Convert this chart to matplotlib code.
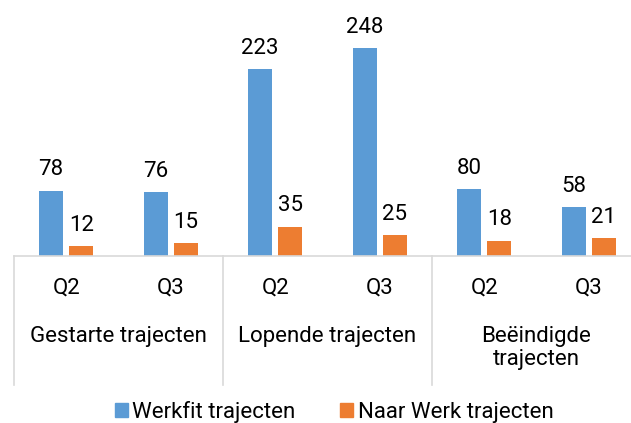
import matplotlib
matplotlib.use("Agg")
import matplotlib.pyplot as plt
import numpy as np
from matplotlib.lines import Line2D

plt.rcParams['font.family'] = ['Roboto', 'DejaVu Sans']

groups = ["Gestarte trajecten", "Lopende trajecten", "Beëindigde\ntrajecten"]
quarters = ["Q2", "Q3"]
series_names = ["Werkfit trajecten", "Naar Werk trajecten"]
werkfit = [78, 76, 223, 248, 80, 58]
naar_werk = [12, 15, 35, 25, 18, 21]
colors = ["#5B9BD5", "#ED7D31"]

W, H = 631, 423
fig = plt.figure(figsize=(W / 100, H / 100), dpi=100)
ax_left, ax_right = 14 / W, 641 / W
ax_bottom = (H - 256) / H
ax_top = (H - 4.6) / H
ax = fig.add_axes([ax_left, ax_bottom, ax_right - ax_left, ax_top - ax_bottom])

FS = 16
x = np.arange(len(werkfit))
bw = 0.23
off = 0.145
for vals, c, o in [(werkfit, colors[0], -off), (naar_werk, colors[1], off)]:
    bars = ax.bar(x + o, vals, width=bw, color=c, zorder=2)
    for b, v in zip(bars, vals):
        ax.annotate(str(v), (b.get_x() + b.get_width() / 2, v), xytext=(0, 7.5),
                    textcoords="offset points", ha="center", va="bottom",
                    fontsize=FS, color="#000000")

ax.set_xlim(-0.5, 5.5)
ax.set_ylim(0, 300)
for s in ["top", "right", "left"]:
    ax.spines[s].set_visible(False)
ax.spines["bottom"].set_color("#d9d9d9")
ax.spines["bottom"].set_linewidth(1.2)
ax.set_yticks([])
ax.set_xticks([])

# tick labels
trans = ax.get_xaxis_transform()
for i in range(len(werkfit)):
    ax.annotate(quarters[i % 2], (x[i], 0), xycoords=trans, xytext=(0, -32 * 0.72),
                textcoords="offset points", ha="center", va="center", fontsize=FS)
for g, name in enumerate(groups):
    cx = 2 * g + 0.5
    ax.annotate(name, (cx, 0), xycoords=trans, xytext=(0, -70 * 0.72),
                textcoords="offset points", ha="center", va="top", fontsize=FS,
                linespacing=1.1)
# separators
for g in range(len(groups) + 1):
    xs = 2 * g - 0.5
    ax.add_line(Line2D([xs, xs], [0, -129 / 251.4], transform=trans, color="#d9d9d9",
                       lw=1.2, clip_on=False))

handles = [plt.Rectangle((0, 0), 1, 1, color=c) for c in colors]
fig.legend(handles, series_names, loc="center", bbox_to_anchor=(334 / W, 1 - 412 / H),
           ncol=2, frameon=False, fontsize=FS, handlelength=0.6, handleheight=0.6,
           handletextpad=0.2, columnspacing=2.0)

fig.savefig("out.png", dpi=100)
